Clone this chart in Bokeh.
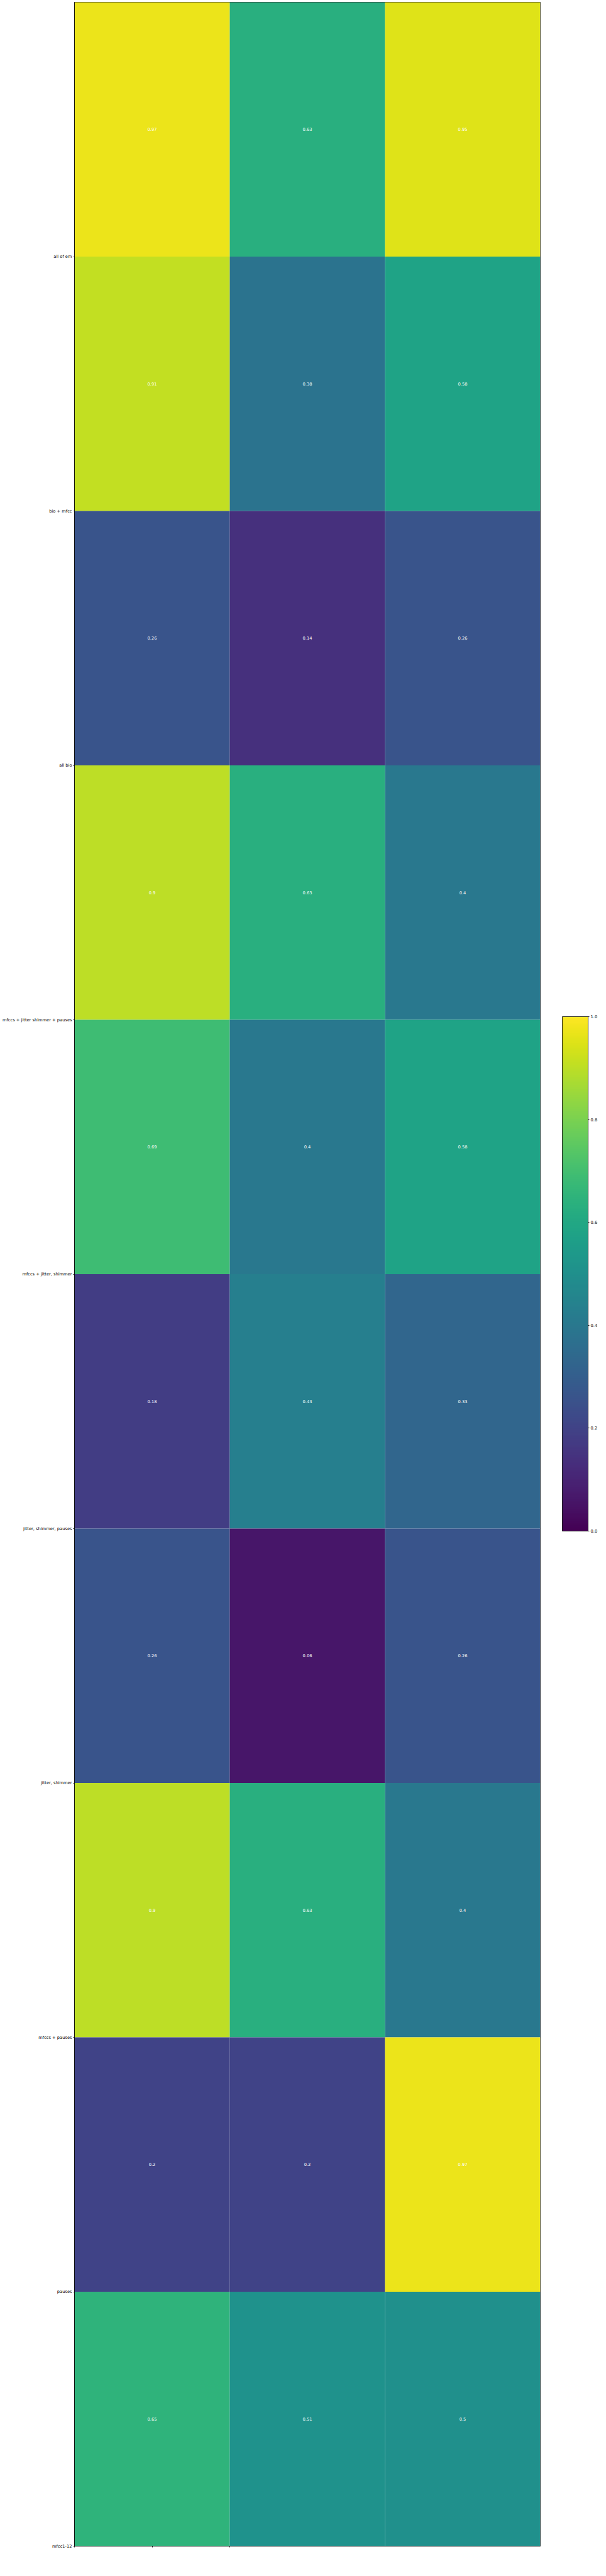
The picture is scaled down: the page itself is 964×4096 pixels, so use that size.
import numpy as np
from bokeh.plotting import figure
from bokeh.models import (ColumnDataSource, FixedTicker, Range1d, LinearAxis,
                          LinearColorMapper, Label, ColorBar, PrintfTickFormatter)
from bokeh.embed import file_html
from bokeh.resources import INLINE
from bokeh.palettes import Viridis256
from bokeh.core.properties import value

# ---- data ----
row_labels = ["all of em", "bio + mfcc", "all bio",
              "mfccs + jitter shimmer + pauses", "mfccs + jitter, shimmer",
              "jitter, shimmer, pauses", "jitter, shimmer", "mfccs + pauses",
              "pauses", "mfcc1-12"]
col_labels = ["CAI St(19)", "CAI F(18)", "STAI T(17)"]
col_cai_st = [0.97, 0.91, 0.26, 0.90, 0.69, 0.18, 0.26, 0.90, 0.20, 0.65]
col_cai_f = [0.63, 0.38, 0.14, 0.63, 0.40, 0.43, 0.06, 0.63, 0.20, 0.51]
col_stai_t = [0.95, 0.58, 0.26, 0.40, 0.58, 0.33, 0.26, 0.40, 0.97, 0.50]
cbar_ticks = [0.0, 0.2, 0.4, 0.6, 0.8, 1.0]

FONT = "DejaVu Sans"
FS = "6.7px"

n_rows = len(row_labels)
n_cols = len(col_labels)
columns = [col_cai_st, col_cai_f, col_stai_t]

xs, ys, vs, ts = [], [], [], []
for j, col in enumerate(columns):
    for i, v in enumerate(col):
        xs.append(j + 0.5)
        ys.append(n_rows - i - 0.5)
        vs.append(v)
        ts.append(f"{v:.2f}".rstrip("0").rstrip("."))
src = ColumnDataSource(dict(x=xs, y=ys, v=vs, t=ts))

W = 954
H = 4080

p = figure(width=W, height=H, output_backend="svg", toolbar_location=None,
           x_range=Range1d(0, n_cols), y_range=Range1d(0, n_rows),
           min_border_left=114, min_border_right=95, min_border_top=3,
           min_border_bottom=32, x_axis_location=None, y_axis_location=None,
           tools="")
p.grid.visible = False
p.outline_line_color = "black"
p.outline_line_width = 0.8
p.background_fill_color = "white"

mapper = LinearColorMapper(palette=Viridis256, low=0, high=1)
p.rect(x="x", y="y", width=1, height=1, source=src, line_color=None,
       fill_color={"field": "v", "transform": mapper})
p.text(x="x", y="y", text="t", source=src, text_color="white",
       text_align="center", text_baseline="middle",
       text_font=value(FONT), text_font_size=FS)

# y axis: labels at bottom edge of each row
yax = LinearAxis(ticker=FixedTicker(ticks=list(range(n_rows))),
                 major_label_overrides={n_rows - 1 - i: lab for i, lab in enumerate(row_labels)})
yax.major_label_text_font = FONT
yax.major_label_text_font_size = FS
yax.major_label_text_color = "black"
yax.major_tick_out = 2
yax.major_tick_in = 0
yax.minor_tick_line_color = None
yax.axis_line_color = "black"
yax.axis_line_width = 0.8
yax.major_tick_line_width = 0.8
yax.major_label_standoff = 2
p.add_layout(yax, "left")

xticks = [0, 0.5, 1.0]
xax = LinearAxis(ticker=FixedTicker(ticks=xticks),
                 major_label_overrides={0: " ", 0.5: " ", 1: " "})
xax.major_label_text_font_size = "1px"
xax.major_tick_out = 2
xax.major_tick_in = 0
xax.minor_tick_line_color = None
xax.axis_line_color = "black"
xax.axis_line_width = 0.8
xax.major_tick_line_width = 0.8
p.add_layout(xax, "below")

for xt, lab in zip(xticks, col_labels):
    p.add_layout(Label(x=xt, y=-0.046, text=lab, angle=30, angle_units="deg",
                       text_align="center", text_baseline="middle",
                       text_font=FONT, text_font_size=FS, text_color="black"))

# colour bar placed at a fixed screen offset from the frame's lower-left corner
cbar = ColorBar(color_mapper=mapper, width=41, height=818, location=(776, 1614),
                margin=0, padding=0,
                ticker=FixedTicker(ticks=cbar_ticks),
                formatter=PrintfTickFormatter(format="%.1f"),
                major_label_text_font=FONT, major_label_text_font_size=FS,
                major_label_text_color="black", label_standoff=2,
                major_tick_out=2, major_tick_in=0, major_tick_line_color="black",
                major_tick_line_width=0.8, minor_tick_line_color=None,
                bar_line_color="black", bar_line_width=0.8,
                background_fill_color=None, border_line_color=None)
p.add_layout(cbar)

open("out.html", "w").write(file_html(p, INLINE))
